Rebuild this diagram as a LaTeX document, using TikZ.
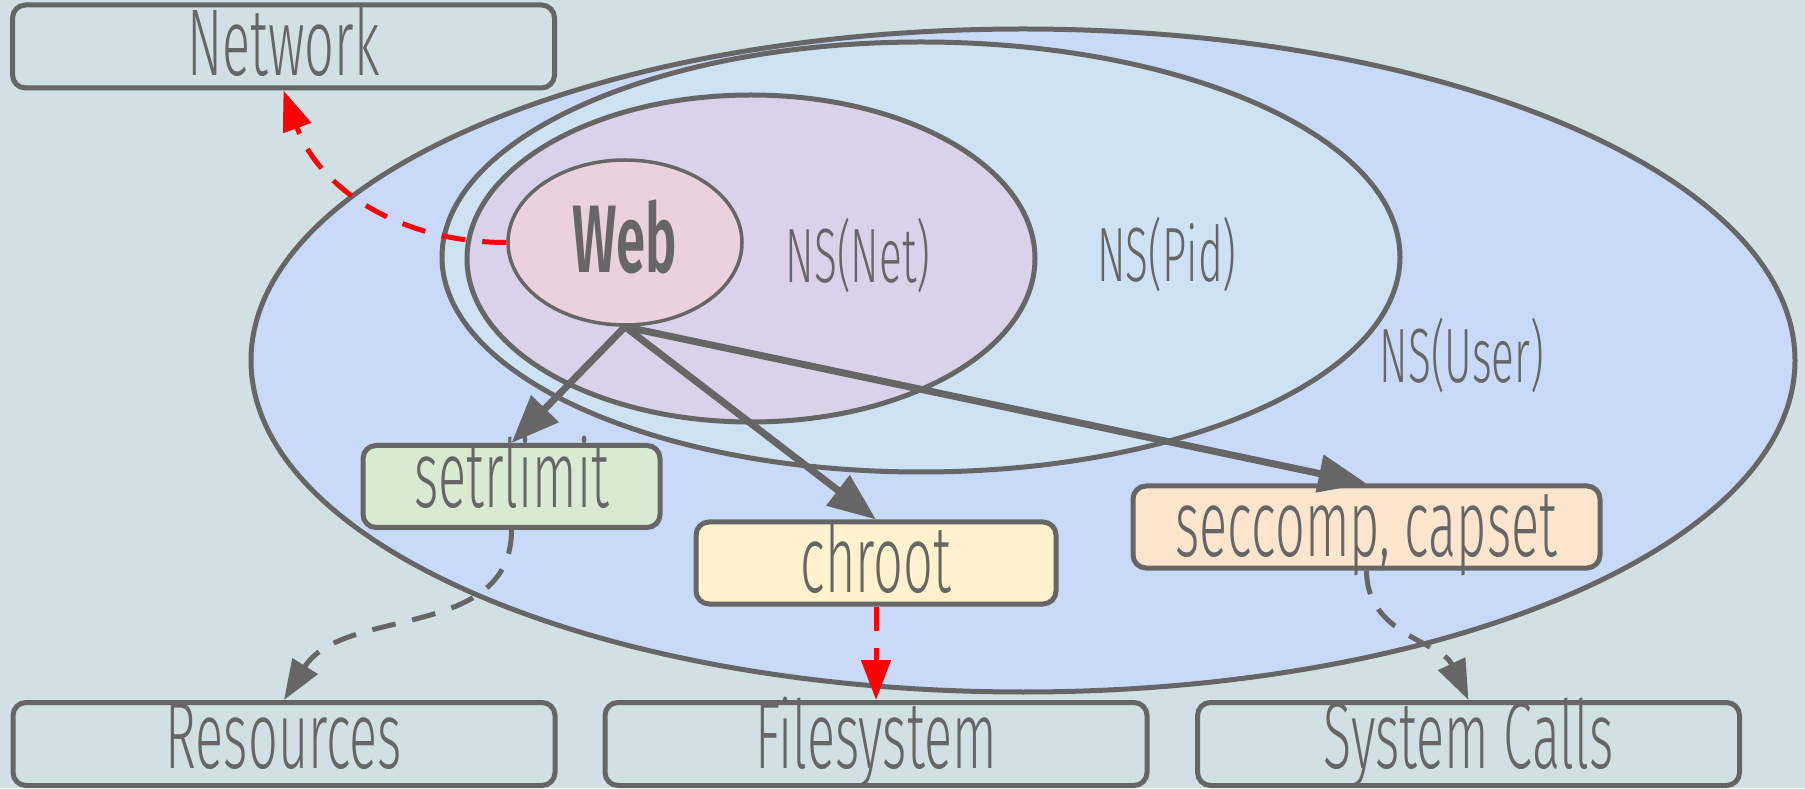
\documentclass[tikz,border=0pt]{standalone}
\usepackage{fontspec}
\setmainfont{Fira Sans}[UprightFont={* Light},BoldFont={* SemiBold},FakeStretch=0.55]
\usetikzlibrary{shapes.geometric,arrows.meta}

\definecolor{bgc}{HTML}{D0E0E3}
\definecolor{linec}{HTML}{666666}
\definecolor{userc}{HTML}{C9DAF8}
\definecolor{pidc}{HTML}{CFE2F3}
\definecolor{netc}{HTML}{D9D2E9}
\definecolor{webc}{HTML}{EAD1DC}
\definecolor{limc}{HTML}{D9EAD3}
\definecolor{rootc}{HTML}{FFF2CC}
\definecolor{secc}{HTML}{FCE5CD}

\tikzset{
  nsarea/.style={draw=linec,line width=5pt},
  bigbox/.style={draw=linec,line width=5pt,rounded corners=13pt,minimum width=542pt,minimum height=83pt,inner sep=0pt,text height=58pt,text depth=0pt,text=linec,font=\fontsize{95}{100}\selectfont},
  lowbox/.style={bigbox,text height=48pt},
  callbox/.style={bigbox,minimum height=82pt},
  nslabel/.style={anchor=base,text=linec,font=\fontsize{77}{80}\selectfont},
  callarrow/.style={draw=linec,line width=7pt,-{Triangle[length=48pt,width=37pt]}},
  reacharrow/.style={draw=red,line width=5pt,dash pattern=on 24pt off 17pt,-{Triangle[length=40pt,width=29pt]}},
  usearrow/.style={draw=linec,line width=5pt,dash pattern=on 24pt off 17pt,-{Triangle[length=40pt,width=29pt]}}
}

\begin{document}
\begin{tikzpicture}[x=1pt,y=1pt]
  \fill[bgc] (0,0) rectangle (1805,788);
  \useasboundingbox (0,0) rectangle (1805,788);

  % namespaces
  \draw[nsarea,fill=userc] (1023,427.5) ellipse (772 and 331.5);
  \draw[nsarea,fill=pidc] (921,531) ellipse (479 and 215);
  \draw[nsarea,fill=netc] (751,529.5) ellipse (284 and 163.5);
  \node[ellipse,draw=linec,line width=3.5pt,fill=webc,minimum width=234pt,minimum height=165pt,inner sep=0pt,text height=61pt,text depth=0pt,text=linec,font=\bfseries\fontsize{96}{100}\selectfont] (web) at (625,545.5) {Web};
  \node[nslabel] (netlabel) at (858,505) {NS(Net)};
  \node[nslabel] (pidlabel) at (1167,506) {NS(Pid)};
  \node[nslabel] (userlabel) at (1462,405) {NS(User)};

  % resources
  \node[bigbox] (network) at (283.5,741.5) {Network};
  \node[lowbox] (resources) at (284,44) {Resources};
  \node[lowbox] (filesystem) at (876,44) {Filesystem};
  \node[lowbox] (syscalls) at (1468.5,44) {System Calls};

  % calls
  \node[callbox,fill=limc,minimum width=297pt,text depth=15pt] (setrlimit) at (511.5,301.5) {setrlimit};
  \node[callbox,fill=rootc,minimum width=360pt] (chroot) at (876,225) {chroot};
  \node[callbox,fill=secc,minimum width=467pt] (seccomp) at (1366.5,261) {seccomp, capset};

  \draw[callarrow] (web.south) -- (setrlimit.north);
  \draw[callarrow] (web.south) -- (chroot.north);
  \draw[callarrow] (web.south) -- (seccomp.north);
  \draw[reacharrow] (web.west) to[out=180,in=-70] (network.south);
  \draw[reacharrow] (chroot.south) -- (filesystem.north);
  \draw[usearrow] (setrlimit.south) to[out=-90,in=58] (resources.north);
  \draw[usearrow] (seccomp.south) to[out=-90,in=115] (syscalls.north);
\end{tikzpicture}
\end{document}
